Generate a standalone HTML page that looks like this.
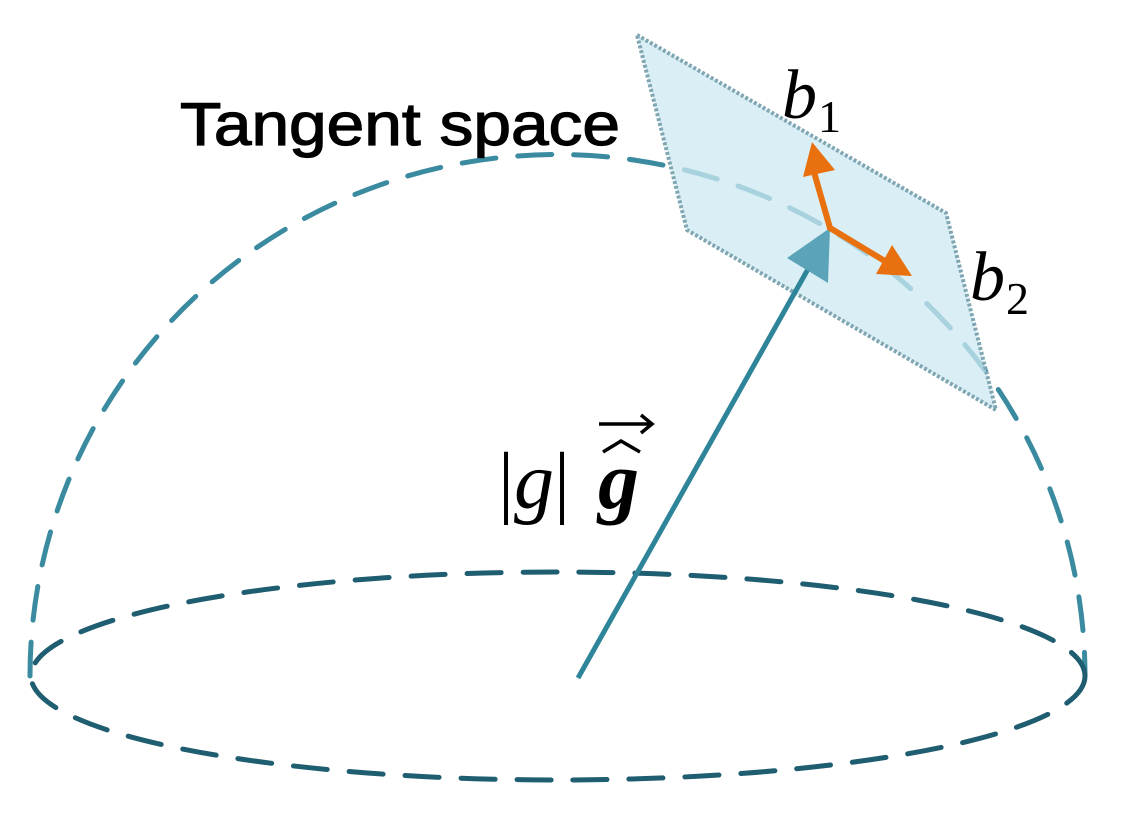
<!DOCTYPE html>
<html><head><style>
html,body{margin:0;padding:0;background:#fff;width:1130px;height:838px;overflow:hidden}
</style></head><body>
<svg width="1130" height="838" viewBox="0 0 1130 838" xmlns="http://www.w3.org/2000/svg">
<path d="M30,676 A527,521 0 0 1 1085,676" fill="none" stroke="#3a8aa0" stroke-width="5" stroke-dasharray="34,22" stroke-linecap="round"/>
<ellipse cx="558" cy="676" rx="527" ry="104" fill="none" stroke="#1f5d70" stroke-width="5" stroke-dasharray="34,22" stroke-linecap="round"/>
<polygon points="637,35 946,213 996,410 687,230" fill="#cde9f2" fill-opacity="0.75" stroke="#7fa6b2" stroke-width="4" stroke-dasharray="3,2"/>
<line x1="578" y1="678" x2="812" y2="262" stroke="#2e8599" stroke-width="5"/>
<polygon points="830,228 828,283 787,258" fill="#5ba3b8"/>
<polyline points="812,165 830,228 893,266" fill="none" stroke="#e8700f" stroke-width="6"/>
<polygon points="812,142 835,170 803,177" fill="#e8700f"/>
<polygon points="912,276 876,274 892,245" fill="#e8700f"/>
<text x="180" y="145" font-family="Liberation Sans, sans-serif" font-size="60" stroke="#000" stroke-width="1.2" textLength="440" lengthAdjust="spacingAndGlyphs" fill="#000">Tangent space</text>
<text x="782" y="118" font-family="Liberation Serif, serif" font-size="70" font-style="italic">b</text>
<text x="818" y="132" font-family="Liberation Serif, serif" font-size="46">1</text>
<text x="970" y="300" font-family="Liberation Serif, serif" font-size="70" font-style="italic">b</text>
<text x="1006" y="314" font-family="Liberation Serif, serif" font-size="46">2</text>
<text x="498" y="508" font-family="Liberation Serif, serif" font-size="80">|<tspan font-style="italic">g</tspan>|</text>
<text x="598" y="508" font-family="Liberation Serif, serif" font-size="82" font-weight="bold" font-style="italic">g</text>
<path d="M603,452 L621,441 L640,452" fill="none" stroke="#000" stroke-width="3.5"/>
<line x1="599" y1="424" x2="650" y2="424" stroke="#000" stroke-width="3.5"/>
<path d="M641,415 L652,424 L641,433" fill="none" stroke="#000" stroke-width="3.5"/>
</svg>
</body></html>
